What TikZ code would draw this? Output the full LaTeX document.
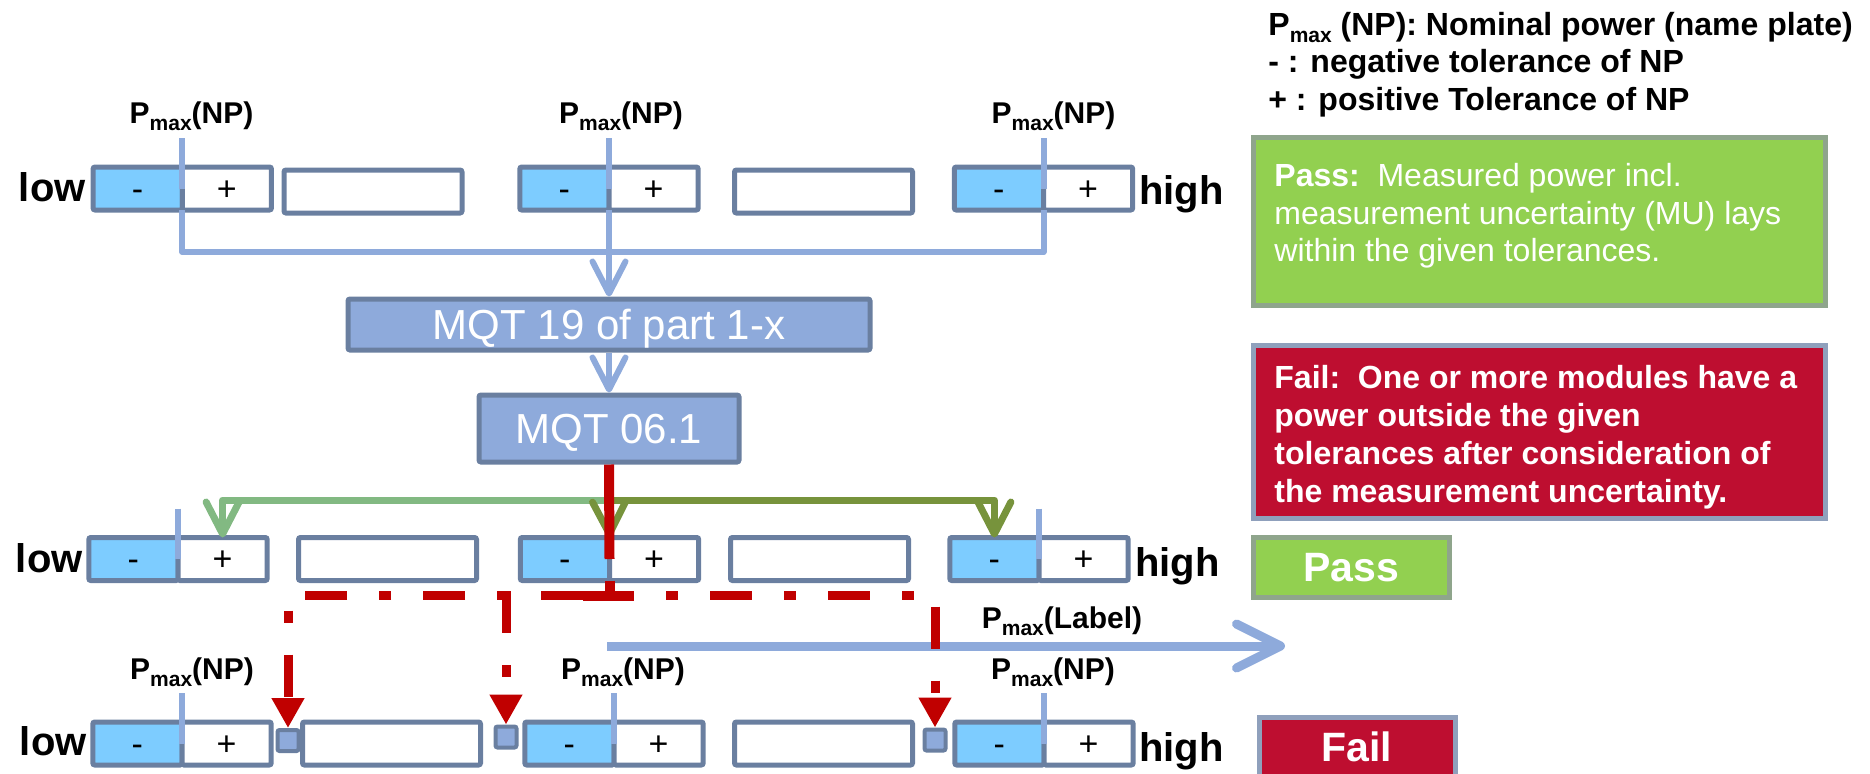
\documentclass[tikz,border=0pt]{standalone}
\usepackage{fontspec}
\setmainfont{Liberation Sans}
\usetikzlibrary{arrows.meta}

\definecolor{frameblue}{RGB}{106,127,160}
\definecolor{minusfill}{RGB}{125,204,255}
\definecolor{lineblue}{RGB}{142,170,219}
\definecolor{lightgreen}{RGB}{130,185,130}
\definecolor{olivegreen}{RGB}{119,147,60}
\definecolor{darkred}{RGB}{192,0,0}
\definecolor{passgreen}{RGB}{146,208,80}
\definecolor{passframe}{RGB}{143,165,140}
\definecolor{failred}{RGB}{190,14,48}
\definecolor{failframe}{RGB}{143,160,188}

% P with a lowered "max" index
\newcommand\pmx[1]{P\raisebox{-3.5pt}{\fontsize{10.5pt}{10.5pt}\selectfont max}#1}

% tolerance box: "-" half, "+" half and the nominal-power marker
\newcommand\tolpair[3]{%
  \node[minushalf, anchor=east] (#1m) at (#2,#3) {-};
  \node[plushalf, anchor=west] (#1p) at (#2,#3) {+};
  \draw[splitline] ([yshift=14.5pt]#1m.north east) -- (#1m.east);
}

\tikzset{
  half/.style={draw=frameblue, line width=2.5pt, rounded corners=1pt,
    minimum width=44.6pt, minimum height=21.5pt, inner sep=0pt, outer sep=0pt,
    text height=11.9pt, text depth=0pt, font=\fontsize{17pt}{17pt}\selectfont},
  minushalf/.style={half, fill=minusfill},
  plushalf/.style={half, fill=white},
  emptybox/.style={draw=frameblue, line width=2.5pt, rounded corners=1pt, fill=white,
    minimum width=89pt, minimum height=21.5pt, inner sep=0pt},
  splitline/.style={draw=lineblue, line width=3pt},
  conn/.style={draw=lineblue, line width=3pt, line join=round},
  barb/.style={-{Straight Barb[length=16pt,width=16.5pt,round]}},
  mqt/.style={draw=frameblue, line width=2.5pt, fill=lineblue, text=white,
    font=\fontsize{21pt}{21pt}\selectfont, text height=15.1pt, text depth=0pt,
    inner sep=0pt, rounded corners=1pt},
  greenline/.style={line width=3.5pt, line join=round},
  redsolid/.style={draw=darkred, line width=5pt},
  reddash/.style={draw=darkred, line width=4.5pt, dash pattern=on 21pt off 16pt on 6pt off 16pt},
  redtip/.style={-{Triangle[length=15pt,width=15.5pt]}},
  sqr/.style={draw=frameblue, line width=2pt, fill=lineblue, minimum size=10.5pt,
    inner sep=0pt, rounded corners=1pt},
  sidelbl/.style={font=\bfseries\fontsize{20pt}{20pt}\selectfont, inner sep=0pt},
  pmlbl/.style={font=\bfseries\fontsize{15pt}{15pt}\selectfont, inner sep=0pt},
  legendtxt/.style={font=\bfseries\fontsize{16pt}{16pt}\selectfont, inner sep=0pt},
  passbox/.style={draw=passframe, fill=passgreen, line width=2.5pt},
  failbox/.style={draw=failframe, fill=failred, line width=2.5pt},
  desctxt/.style={text=white, align=left, inner sep=0pt, font=\fontsize{16pt}{18.75pt}\selectfont},
  tagtxt/.style={text=white, font=\bfseries\fontsize{20.5pt}{20.5pt}\selectfont,
    text height=14.7pt, text depth=0pt, inner sep=0pt},
  bigarrow/.style={draw=lineblue, line width=4.5pt, -{Straight Barb[length=22pt,width=22pt,round]}},
}

\begin{document}
\begin{tikzpicture}[x=0.5pt, y=-0.5pt]
\useasboundingbox (0,0) rectangle (1870,773);
\clip (0,0) rectangle (1870,773);

% ---------- legend ----------
\node[legendtxt, anchor=base west] (leg1) at (1268,35) {\pmx{\ (NP): Nominal power (name plate)}};
\node[legendtxt, anchor=base west] (leg2) at (1268,72) {- : negative tolerance of NP};
\node[legendtxt, anchor=base west] (leg3) at (1268,110) {+ : positive Tolerance of NP};

% ---------- upper row: nominal values ----------
\coordinate (hub) at (609,252);
\node[sidelbl, anchor=base east] (low1) at (86,201) {low};
\tolpair{A1}{182.25}{188.5}
\node[emptybox] (E1) at (373,191.5) {};
\tolpair{A2}{609}{188.5}
\node[emptybox] (E2) at (823.5,191.5) {};
\tolpair{A3}{1043.5}{188.5}
\node[sidelbl, anchor=base west] (high1) at (1139,204) {high};
\node[pmlbl, anchor=base] (lab1) at (191.5,123) {\pmx{(NP)}};
\node[pmlbl, anchor=base] (lab2) at (621,123) {\pmx{(NP)}};
\node[pmlbl, anchor=base] (lab3) at (1053.5,123) {\pmx{(NP)}};

\draw[conn] (A1m.south east) |- (hub) -| (A3m.south east);
\draw[conn] (A2m.south east) -- (hub);

% ---------- test sequence ----------
\node[mqt, minimum width=261pt, minimum height=25.5pt] (mqt19) at (609,324.5) {MQT 19 of part 1-x};
\node[mqt, minimum width=130pt, minimum height=33.5pt] (mqt06) at (609,428.5) {MQT 06.1};
\draw[conn, barb] (hub) -- (mqt19.north);
\draw[conn, barb] (mqt19.south) -- (mqt06.north);

% ---------- middle row: pass ----------
\node[sidelbl, anchor=base east] (low2) at (83,572) {low};
\tolpair{B1}{178}{559}
\node[emptybox] (F1) at (387.5,559) {};
\tolpair{B2}{609.5}{559}
\node[emptybox] (F2) at (819.5,559) {};
\tolpair{B3}{1039}{559}
\node[sidelbl, anchor=base west] (high2) at (1135,576) {high};

\coordinate (gsplit) at (609,500);
\draw[greenline, draw=olivegreen] (mqt06.south) -- (gsplit);
\draw[greenline, draw=lightgreen, barb] (gsplit) -| (B1p.north);
\draw[greenline, draw=olivegreen, barb] (gsplit) -| (B3m.north);
\draw[greenline, draw=olivegreen, barb] (gsplit) -- (B2m.north east);

% ---------- lower row: fail ----------
\node[sidelbl, anchor=base east] (low3) at (87,755) {low};
\tolpair{C1}{182}{743.5}
\node[emptybox] (G1) at (391.5,743.5) {};
\tolpair{C2}{614}{743.5}
\node[emptybox] (G2) at (823.5,743.5) {};
\tolpair{C3}{1044}{743.5}
\node[sidelbl, anchor=base west] (high3) at (1139,761) {high};
\node[pmlbl, anchor=base] (lab4) at (192,679) {\pmx{(NP)}};
\node[pmlbl, anchor=base] (lab5) at (623,679) {\pmx{(NP)}};
\node[pmlbl, anchor=base] (lab6) at (1053,679) {\pmx{(NP)}};

\node[sqr] (sq1) at (288,740.5) {};
\node[sqr] (sq2) at (506,737) {};
\node[sqr] (sq3) at (935,740) {};

% label power axis
\coordinate (axstart) at (607,646);
\coordinate (axend) at (1285,646);
\draw[bigarrow] (axstart) -- (axend);
\node[pmlbl, anchor=base] (plabel) at (1062,628) {\pmx{(Label)}};

% failing path
\coordinate (jn) at (609.5,600);
\coordinate (jl) at (583,595.5);
\coordinate (jr) at (634,595.5);
\coordinate (jm) at (506,591);
\draw[redsolid] (mqt06.south) -- (B2m.east);
\draw[redsolid] (B2m.south east) -- (jn);
\draw[redsolid] (jl) -- (jr);
\draw[reddash, redtip] (jl) -| (sq1.north);
\draw[reddash, redtip] (jm) -- (sq2.north);
\draw[reddash, dash phase=21pt, redtip] (jr) -| (sq3.north);

% ---------- verdict boxes ----------
\node[passbox, minimum width=286pt, minimum height=84pt] (passdesc) at (1539,221) {};
\node[desctxt, anchor=north west] (passtxt) at (1274,163)
  {\textbf{Pass:}\ \ Measured power incl.\\measurement uncertainty (MU) lays\\within the given tolerances.};
\node[failbox, minimum width=286pt, minimum height=86.5pt] (faildesc) at (1539,431.5) {};
\node[desctxt, font=\bfseries\fontsize{16pt}{19pt}\selectfont, anchor=north west] (failtxt) at (1274,365)
  {Fail:\ \ One or more modules have a\\power outside the given\\tolerances after consideration of\\the measurement uncertainty.};

\node[passbox, tagtxt, minimum width=98pt, minimum height=30pt] (passtag) at (1351,567) {Pass};
\node[failbox, tagtxt, minimum width=98pt, minimum height=30pt] (failtag) at (1357,747) {Fail};

\end{tikzpicture}
\end{document}
